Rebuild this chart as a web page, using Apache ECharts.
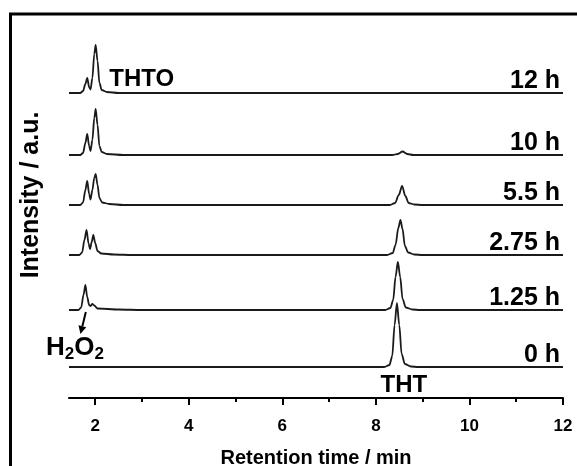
<!DOCTYPE html>
<html>
<head>
<meta charset="utf-8">
<script src="https://cdn.jsdelivr.net/npm/echarts@6/dist/echarts.min.js"></script>
<style>
html,body{margin:0;padding:0;background:#fff;}
#chart{width:577px;height:466px;}
</style>
</head>
<body>
<div id="chart"></div>
<script>
// ---- data (retention time in min, intensity in a.u.) ----
const xMin = 1.44;
const xMax = 12;
const majorTicks = [2, 4, 6, 8, 10, 12];
const minorTicks = [3, 5, 7, 9, 11];
const timeLabels = ['0 h', '1.25 h', '2.75 h', '5.5 h', '10 h', '12 h'];
const traceOffsets = [31, 88, 143, 193, 243, 305];

const trace0h = [[1.44,0],[8.18,0],[8.29,2],[8.35,11],[8.4,42],[8.45,64],[8.5,42],[8.55,13],[8.62,3],[8.75,0.5],[8.9,0],[12,0]];
const trace1p25h = [[1.44,0],[1.64,0],[1.7,2.5],[1.75,15],[1.79,25],[1.83,13],[1.87,5],[1.9,4],[1.94,6],[1.98,4.5],[2.05,1.5],[2.5,0.5],[3.0,0],[8.2,0],[8.31,2],[8.37,10],[8.42,33],[8.47,48],[8.52,33],[8.57,11],[8.64,2.5],[8.78,0.5],[8.95,0],[12,0]];
const trace2p75h = [[1.44,0],[1.66,0],[1.72,2.5],[1.77,15],[1.815,25],[1.86,11],[1.89,6],[1.925,13],[1.96,20],[2.0,12],[2.05,4],[2.13,1.5],[2.4,0.5],[2.8,0],[8.24,0],[8.36,2],[8.42,10],[8.48,27],[8.525,35],[8.57,26],[8.62,9],[8.69,2.5],[8.82,0.5],[9.0,0],[12,0]];
const trace5p5h = [[1.44,0],[1.68,0],[1.74,2.5],[1.79,15],[1.83,24],[1.87,11],[1.9,5.5],[1.94,15],[1.98,27],[2.01,31],[2.05,20],[2.09,7],[2.15,2.5],[2.3,1],[2.6,0],[8.3,0],[8.41,2],[8.49,10],[8.56,19],[8.63,9],[8.7,2],[8.82,0.5],[9.0,0],[12,0]];
const trace10h = [[1.44,0],[1.68,0],[1.74,2],[1.79,12],[1.83,21],[1.87,9],[1.9,4],[1.94,15],[1.98,37],[2.01,46],[2.05,30],[2.09,9],[2.14,3],[2.25,1],[2.6,0],[8.35,0],[8.47,1],[8.57,3.5],[8.67,1],[8.8,0],[12,0]];
const trace12h = [[1.44,0],[1.68,0],[1.74,2],[1.79,9],[1.83,15],[1.87,6],[1.9,3.5],[1.94,15],[1.98,39],[2.01,48],[2.05,32],[2.09,10],[2.14,3],[2.25,1],[2.5,0],[12,0]];
const traces = [trace0h, trace1p25h, trace2p75h, trace5p5h, trace10h, trace12h];

const FONT = '"Liberation Sans", Arial, Helvetica, sans-serif';

const chart = echarts.init(document.getElementById('chart'), null, {renderer: 'canvas'});

const series = traces.map((tr, i) => ({
  type: 'line',
  name: timeLabels[i],
  xAxisIndex: 0,
  yAxisIndex: 0,
  data: tr.map(p => [p[0], p[1] + traceOffsets[i]]),
  showSymbol: false,
  symbol: 'none',
  smooth: 0.3,
  smoothMonotone: 'x',
  clip: true,
  silent: true,
  lineStyle: {color: '#1a1a1a', width: 1.8},
  z: 3
}));

chart.setOption({
  backgroundColor: '#fff',
  animation: false,
  grid: {left: 69, right: 14, top: 14, bottom: 68, containLabel: false, outerBoundsMode: 'none'},
  xAxis: [
    {
      type: 'value', min: xMin, max: xMax, position: 'bottom',
      axisLine: {show: true, lineStyle: {color: '#000', width: 2}},
      axisTick: {show: true, customValues: majorTicks, length: 7, inside: false, lineStyle: {color: '#000', width: 2}},
      axisLabel: {show: true, customValues: majorTicks, margin: 20, color: '#000', fontFamily: FONT, fontWeight: 'bold', fontSize: 17},
      splitLine: {show: false},
      name: 'Retention time / min', nameLocation: 'middle', nameGap: 50,
      nameTextStyle: {color: '#000', fontFamily: FONT, fontWeight: 'bold', fontSize: 20}
    },
    {
      type: 'value', min: xMin, max: xMax, position: 'bottom', offset: 0,
      axisLine: {show: false},
      axisTick: {show: true, customValues: minorTicks, length: 4, inside: false, lineStyle: {color: '#000', width: 2}},
      axisLabel: {show: false},
      splitLine: {show: false}
    }
  ],
  yAxis: {type: 'value', min: 0, max: 384, show: false},
  series: series
});

function px(x, y) { return chart.convertToPixel({xAxisIndex: 0, yAxisIndex: 0}, [x, y]); }

const graphics = [];
// outer frame
graphics.push({type: 'rect', silent: true, shape: {x: 10.5, y: 14, width: 800, height: 800},
  style: {fill: 'none', stroke: '#000', lineWidth: 3}, z: 10});
// y axis title
graphics.push({type: 'text', silent: true, x: 31, y: 195, rotation: Math.PI / 2,
  style: {text: 'Intensity / a.u.', fill: '#000', font: 'bold 25px ' + FONT, align: 'center', verticalAlign: 'middle'}});
// time labels
timeLabels.forEach((lab, i) => {
  const p = px(xMax, traceOffsets[i]);
  graphics.push({type: 'text', silent: true, x: p[0] - 3, y: p[1] + 1,
    style: {text: lab, fill: '#000', font: 'bold 25px ' + FONT, align: 'right', verticalAlign: 'bottom'}});
});
// THTO label
const pTHTO = px(2.3, traceOffsets[5]);
graphics.push({type: 'text', silent: true, x: pTHTO[0], y: pTHTO[1] - 2,
  style: {text: 'THTO', fill: '#000', font: 'bold 24px ' + FONT, align: 'left', verticalAlign: 'bottom'}});
// THT label
const pTHT = px(8.6, 0);
graphics.push({type: 'text', silent: true, x: pTHT[0], y: pTHT[1] - 1,
  style: {text: 'THT', fill: '#000', font: 'bold 24px ' + FONT, align: 'center', verticalAlign: 'bottom'}});
// H2O2 label
const pH = px(1.44, traceOffsets[0]);
graphics.push({type: 'text', silent: true, x: pH[0] - 23, y: pH[1] - 19,
  style: {
    text: 'H{s|2}O{s|2}', fill: '#000', font: 'bold 26px ' + FONT, align: 'left', verticalAlign: 'middle',
    rich: {s: {font: 'bold 17px ' + FONT, fill: '#000', padding: [12, 0, 0, 0]}}
  }});
// arrow from H2O2 peak of 1.25 h trace down to label
const a1 = px(1.8, traceOffsets[1] - 2);
const a2 = px(1.685, 64);
const dx = a2[0] - a1[0], dy = a2[1] - a1[1];
const len = Math.sqrt(dx * dx + dy * dy);
const ux = dx / len, uy = dy / len;
const headL = 8, headW = 4;
const bx = a2[0] - ux * headL, by = a2[1] - uy * headL;
graphics.push({type: 'line', silent: true, shape: {x1: a1[0], y1: a1[1], x2: bx, y2: by},
  style: {stroke: '#000', lineWidth: 2}});
graphics.push({type: 'polygon', silent: true,
  shape: {points: [[a2[0], a2[1]], [bx - uy * headW, by + ux * headW], [bx + uy * headW, by - ux * headW]]},
  style: {fill: '#000'}});

chart.setOption({graphic: graphics});
</script>
</body>
</html>
